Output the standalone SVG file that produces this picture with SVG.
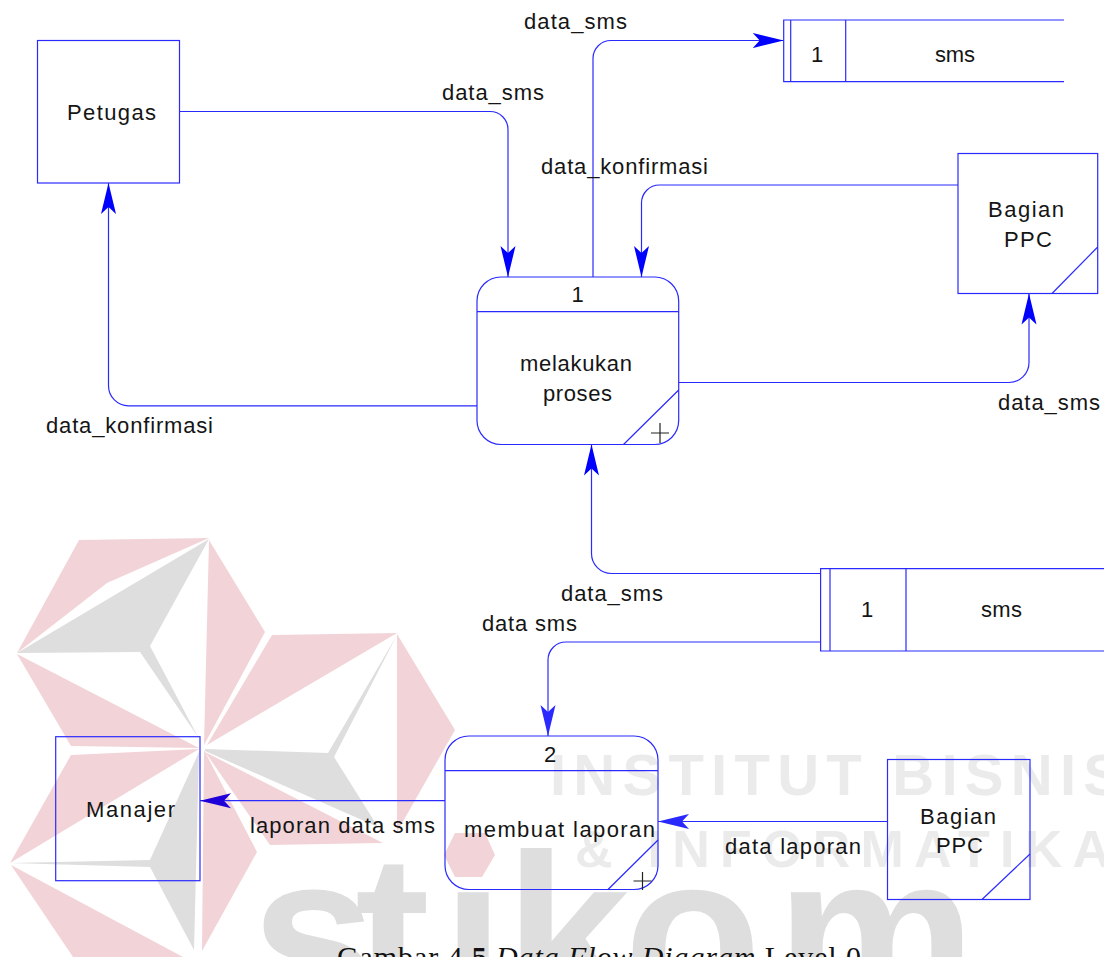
<svg xmlns="http://www.w3.org/2000/svg" width="1104" height="957" viewBox="0 0 1104 957">
<style>
.p{fill:#f2d4d8}
.g{fill:#dedede}
.wm{font-family:"Liberation Sans",Arial,sans-serif;font-weight:700;fill:#ebebeb}
.s{fill:none;stroke:#2a2aff;stroke-width:1.2}
.c{fill:none;stroke:#2a2aff;stroke-width:1.2}
.x{fill:none;stroke:#222;stroke-width:1.2}
.t{font-family:"Liberation Sans",Arial,sans-serif;font-size:22px;fill:#151515}
.m{text-anchor:middle}
.cap{font-family:"Liberation Serif","Times New Roman",serif;font-size:30px;fill:#111}
</style>
<defs>
<marker id="a" markerUnits="userSpaceOnUse" markerWidth="31" markerHeight="16" refX="31" refY="8" orient="auto" viewBox="0 0 31 16"><path d="M31 8L0 .5 7 8 0 15.5Z" fill="#0000ff"/></marker>
<marker id="b" markerUnits="userSpaceOnUse" markerWidth="31" markerHeight="16" refX="31" refY="8" orient="auto" viewBox="0 0 31 16"><path d="M31 8L0 .5 7 8 0 15.5Z" fill="#2a2aff"/></marker>
<marker id="d" markerUnits="userSpaceOnUse" markerWidth="31" markerHeight="16" refX="31" refY="8" orient="auto" viewBox="0 0 31 16"><path d="M31 8L0 .5 7 8 0 15.5Z" fill="#2000d8"/></marker>
</defs>
<rect width="1104" height="957" fill="#fff"/>
<g id="watermark">
<polygon class="p" points="79,540 209,538 107,583 17,653"/>
<polygon class="g" points="209,539 150,646 198,737 140,652 17,653"/>
<polygon class="p" points="209,540 265,632 204,745"/>
<polygon class="p" points="17,654 71,746 199,748"/>
<polygon class="p" points="272,635 397,633 207,745"/>
<polygon class="g" points="205,749 328,753 397,635 334,757 378,827 205,751"/>
<polygon class="p" points="397,634 455,730 397,832"/>
<polygon class="p" points="205,752 270,845 383,843"/>
<polygon class="p" points="71,755 199,749 10,863"/>
<polygon class="g" points="10,863 150,860 199,752 194,950 150,867"/>
<polygon class="p" points="204,750 257,852 202,951"/>
<polygon class="p" points="11,865 183,957 73,957"/>
<text class="wm" font-size="58" x="550" y="795" textLength="572">INSTITUT BISNIS</text>
<text class="wm" font-size="52" x="575" y="867" textLength="535">&amp; INFORMATIKA</text>
<text class="wm" font-size="225" style="fill:#dedede" x="251 355 442 505 624 776" y="1011">stikom</text>
<rect x="442" y="835" width="55" height="57" fill="#fff"/>
<polygon class="p" points="444,855 455,833 485,833 495,855 482,877 455,877"/>
</g>
<g id="connectors">
<path class="c" marker-end="url(#a)" d="M179.5 111.5H490A18 18 0 0 1 508 129.500V277"/>
<path class="c" marker-end="url(#a)" d="M593 277V58.500A18 18 0 0 1 611 40.500H783.700"/>
<path class="c" marker-end="url(#a)" d="M958 185H659.500A18 18 0 0 0 641.500 203V277"/>
<path class="c" marker-end="url(#a)" d="M678.700 382.500H1009A20 20 0 0 0 1029 362.500V293.500"/>
<path class="c" marker-end="url(#a)" d="M477 405.800H128.500A20 20 0 0 1 108.500 385.800V183"/>
<path class="c" marker-end="url(#a)" d="M820.600 573.500H611.500A20 20 0 0 1 591.500 553.500V444.500"/>
<path class="c" marker-end="url(#b)" d="M820.600 642H566A18 18 0 0 0 548 660V736"/>
<path class="c" marker-end="url(#d)" d="M445 800.700H200"/>
<path class="c" marker-end="url(#b)" d="M887.500 821.500H658"/>
</g>
<g id="petugas"><rect class="s" x="37.500" y="40.500" width="142" height="142.500"/><text class="t" x="67" y="120" textLength="89">Petugas</text></g>
<g id="store-top"><path class="s" d="M1064 20H783.700V81.700H1064M790.700 20V81.700M845.700 20V81.700"/><text class="t m" x="817" y="62">1</text><text class="t" x="935" y="62" textLength="40">sms</text></g>
<g id="bagian-ppc-top"><rect class="s" x="958" y="153.500" width="139.700" height="140"/><path class="s" d="M1052 293.500L1097.700 247"/><text class="t" x="988" y="217" textLength="76">Bagian</text><text class="t" x="1004" y="247" textLength="48">PPC</text></g>
<g id="process-1"><rect class="s" x="477" y="277" width="201.700" height="167.500" rx="24"/><path class="s" d="M477 311.700H678.700M623.500 444.500L678.700 390"/><path class="x" d="M651 433H669M660 423V443"/><text class="t m" x="577.500" y="302">1</text><text class="t" x="520" y="371" textLength="112">melakukan</text><text class="t" x="543" y="401" textLength="69">proses</text></g>
<g id="store-bottom"><path class="s" d="M1104 568.700H820.600V651H1104M830 568.700V651M906 568.700V651"/><text class="t m" x="867" y="617">1</text><text class="t" x="981" y="617" textLength="41">sms</text></g>
<g id="process-2"><rect class="s" x="445" y="736" width="213" height="153.500" rx="24"/><path class="s" d="M445 770.700H658M608 889.500L658 840"/><path class="x" d="M633.500 881H651.500M642.500 872V890"/><text class="t m" x="550" y="762">2</text><text class="t" x="464" y="837" textLength="191">membuat laporan</text></g>
<g id="manajer"><rect class="s" x="55.700" y="736.700" width="144.300" height="144"/><text class="t" x="86" y="817" textLength="89">Manajer</text></g>
<g id="bagian-ppc-bottom"><rect class="s" x="887.500" y="759.500" width="142.500" height="140"/><path class="s" d="M982 899.500L1030 854"/><text class="t" x="920" y="824" textLength="76">Bagian</text><text class="t" x="936" y="853" textLength="47">PPC</text></g>
<g id="labels">
<text class="t" x="524" y="29" textLength="103">data_sms</text>
<text class="t" x="442" y="100" textLength="102">data_sms</text>
<text class="t" x="541" y="174" textLength="167">data_konfirmasi</text>
<text class="t" x="46" y="433" textLength="167">data_konfirmasi</text>
<text class="t" x="998" y="410" textLength="102">data_sms</text>
<text class="t" x="561" y="601" textLength="102">data_sms</text>
<text class="t" x="482" y="631" textLength="95">data sms</text>
<text class="t" x="250" y="833" textLength="185">laporan data sms</text>
<text class="t" x="725" y="854" textLength="136">data laporan</text>
</g>
<text class="cap" x="337" y="967" textLength="524">Gambar 4.<tspan font-weight="700">5</tspan> <tspan font-style="italic">Data Flow Diagram</tspan> Level 0</text>
</svg>
